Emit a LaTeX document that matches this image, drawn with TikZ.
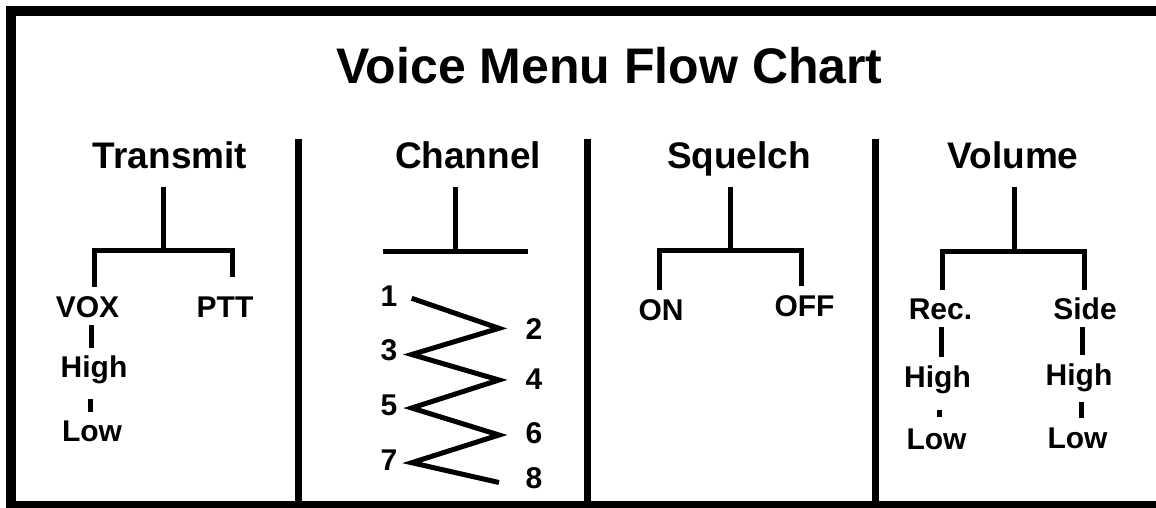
\documentclass[tikz,border=0pt]{standalone}
\usepackage{fontspec}
\setmainfont{Liberation Sans}
\begin{document}
\begin{tikzpicture}[x=1pt,y=-1pt,
  lbl/.style={font=\fontsize{30}{32}\selectfont\bfseries, anchor=base, inner sep=0pt},
  head/.style={font=\fontsize{37}{40}\selectfont\bfseries, anchor=base, inner sep=0pt},
  ttl/.style={font=\fontsize{50}{54}\selectfont\bfseries, anchor=base west, inner sep=0pt},
  wire/.style={line width=5pt},
  framestroke/.style={line width=10pt},
  divider/.style={line width=7pt}]
\useasboundingbox (0,0) rectangle (1156,508);
\clip (0,0) rectangle (1156,508);
\fill[white] (0,0) rectangle (1156,508);
% frame
\coordinate (fbl) at (11,520);
\coordinate (ftl) at (11,11);
\coordinate (ftr) at (1170,11);
\coordinate (bl) at (6,506);
\coordinate (br) at (1170,506);
\draw[framestroke] (fbl) -- (ftl) -- (ftr);
\draw[framestroke] (bl) -- (br);
% dividers
\foreach \x/\n in {298.5/a,587/b,875.5/c}{
  \coordinate (d\n t) at (\x,139);
  \coordinate (d\n b) at (\x,510);
  \draw[divider] (d\n t) -- (d\n b);
}
% title
\node[ttl] (title) at (336,83.3) {Voice Menu Flow Chart};
% headings
\node[head] (transmit) at (170,168) {Transmit};
\node[head] (channel) at (468,168) {Channel};
\node[head] (squelch) at (739,168) {Squelch};
\node[head] (volume) at (1013,168) {Volume};

% ---- Transmit
\coordinate (ts) at (163.5,186.7);
\coordinate (tj) at (163.5,250.5);
\coordinate (tl) at (94,250.5);
\coordinate (tr) at (232.5,250.5);
\coordinate (tlb) at (94,286.7);
\coordinate (trb) at (232.5,276.7);
\draw[wire] (ts) -- (tj);
\draw[wire] (tlb) -- (tl) -- (tr) -- (trb);
\node[lbl] (vox) at (87.5,317) {VOX};
\node[lbl] (ptt) at (225,317) {PTT};
\node[lbl] (thigh) at (94,377) {High};
\node[lbl] (tlow) at (92,441.7) {Low};
\coordinate (v1) at (91.5,325); \coordinate (v2) at (91.5,348);
\coordinate (v3) at (90.5,399); \coordinate (v4) at (90.5,412);
\draw[wire] (v1) -- (v2);
\draw[wire] (v3) -- (v4);

% ---- Channel
\coordinate (cs) at (455,186.7);
\coordinate (cj) at (455,251);
\coordinate (cl) at (383,251);
\coordinate (cr) at (527.7,251);
\draw[wire] (cs) -- (cj);
\draw[wire] (cl) -- (cr);
\coordinate (z1) at (411.7,298.3);
\coordinate (z2) at (499,328.3);
\coordinate (z3) at (411.7,354.5);
\coordinate (z4) at (499,380);
\coordinate (z5) at (411.7,408);
\coordinate (z6) at (499,435);
\coordinate (z7) at (411.7,462.7);
\coordinate (z8) at (499,482.5);
\draw[wire] (z1) -- (z2) -- (z3) -- (z4) -- (z5) -- (z6) -- (z7) -- (z8);
\node[lbl] (n1) at (389,306.7) {1};
\node[lbl] (n3) at (389,360) {3};
\node[lbl] (n5) at (389,415) {5};
\node[lbl] (n7) at (389,470) {7};
\node[lbl] (n2) at (534,339) {2};
\node[lbl] (n4) at (534,389) {4};
\node[lbl] (n6) at (534,443) {6};
\node[lbl] (n8) at (534,488) {8};

% ---- Squelch
\coordinate (ss) at (730.5,186.7);
\coordinate (sj) at (730.5,250.5);
\coordinate (sl) at (659.5,250.5);
\coordinate (sr) at (801.5,250.5);
\coordinate (slb) at (659.5,290);
\coordinate (srb) at (801.5,286);
\draw[wire] (ss) -- (sj);
\draw[wire] (slb) -- (sl) -- (sr) -- (srb);
\node[lbl] (on) at (661,320) {ON};
\node[lbl] (off) at (804.5,316) {OFF};

% ---- Volume
\coordinate (vs) at (1014,186.7);
\coordinate (vj) at (1014,251);
\coordinate (vl) at (942.5,251);
\coordinate (vr) at (1084,251);
\coordinate (vlb) at (942.5,290);
\coordinate (vrb) at (1084,290);
\draw[wire] (vs) -- (vj);
\draw[wire] (vlb) -- (vl) -- (vr) -- (vrb);
\node[lbl] (rec) at (940.5,319) {Rec.};
\node[lbl] (side) at (1085,319) {Side};
\node[lbl] (rhigh) at (937.5,387) {High};
\node[lbl] (rlow) at (936.5,449) {Low};
\node[lbl] (shigh) at (1079,385) {High};
\node[lbl] (slow) at (1077.5,448) {Low};
\coordinate (r1) at (941,327); \coordinate (r2) at (941,357);
\coordinate (r3) at (939.5,410); \coordinate (r4) at (939.5,417);
\coordinate (s1) at (1082,327); \coordinate (s2) at (1082,355);
\coordinate (s3) at (1081,402); \coordinate (s4) at (1081,418);
\draw[wire] (r1) -- (r2);
\draw[wire] (r3) -- (r4);
\draw[wire] (s1) -- (s2);
\draw[wire] (s3) -- (s4);
\end{tikzpicture}
\end{document}
